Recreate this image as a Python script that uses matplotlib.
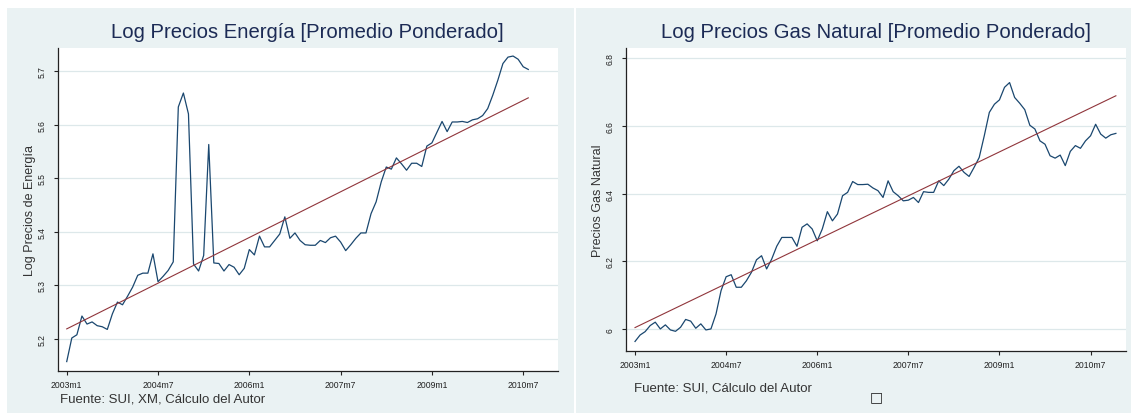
import numpy as np
import matplotlib.pyplot as plt
from matplotlib.patches import Rectangle

plt.rcParams['font.family'] = ['Liberation Sans', 'DejaVu Sans']

# datos: log precios energia, 2003m1 - 2010m8
energia = [5.158, 5.202, 5.208, 5.243, 5.228, 5.232, 5.225, 5.223, 5.218, 5.247,
           5.269, 5.264, 5.280, 5.297, 5.319, 5.323, 5.323, 5.359, 5.307, 5.317,
           5.328, 5.344, 5.633, 5.659, 5.620, 5.340, 5.327, 5.356, 5.563, 5.342,
           5.341, 5.327, 5.339, 5.334, 5.320, 5.332, 5.367, 5.357, 5.392, 5.372,
           5.372, 5.384, 5.396, 5.428, 5.388, 5.398, 5.384, 5.376, 5.375, 5.375,
           5.384, 5.380, 5.389, 5.392, 5.381, 5.365, 5.376, 5.388, 5.398, 5.398,
           5.434, 5.456, 5.493, 5.521, 5.517, 5.538, 5.527, 5.515, 5.528, 5.528,
           5.522, 5.560, 5.566, 5.586, 5.606, 5.587, 5.605, 5.605, 5.606, 5.604,
           5.609, 5.611, 5.617, 5.630, 5.655, 5.683, 5.714, 5.726, 5.728, 5.722,
           5.708, 5.703]
trend_energia = [5.219, 5.650]

# datos: log precios gas natural, 2003m1 - 2010m12
gas = [5.964, 5.983, 5.993, 6.011, 6.021, 6.001, 6.013, 5.998, 5.994, 6.006,
       6.029, 6.024, 6.003, 6.016, 5.998, 6.001, 6.045, 6.114, 6.155, 6.161,
       6.124, 6.124, 6.143, 6.168, 6.205, 6.217, 6.178, 6.207, 6.245, 6.271,
       6.271, 6.271, 6.245, 6.301, 6.311, 6.296, 6.261, 6.296, 6.347, 6.320,
       6.340, 6.394, 6.404, 6.436, 6.427, 6.427, 6.428, 6.417, 6.409, 6.389,
       6.438, 6.406, 6.394, 6.379, 6.381, 6.389, 6.374, 6.406, 6.404, 6.404,
       6.438, 6.424, 6.443, 6.468, 6.481, 6.463, 6.451, 6.478, 6.507, 6.571,
       6.640, 6.664, 6.677, 6.714, 6.728, 6.684, 6.667, 6.648, 6.602, 6.591,
       6.556, 6.546, 6.512, 6.505, 6.514, 6.483, 6.525, 6.542, 6.534, 6.556,
       6.571, 6.605, 6.576, 6.564, 6.574, 6.578]
trend_gas = [6.005, 6.689]

xticks = [0, 18, 36, 54, 72, 90]
xticklabels = ['2003m1', '2004m7', '2006m1', '2007m7', '2009m1', '2010m7']
yticks_energia = [5.2, 5.3, 5.4, 5.5, 5.6, 5.7]
yticks_gas = [6.0, 6.2, 6.4, 6.6, 6.8]
yticklabels_gas = ['6', '6.2', '6.4', '6.6', '6.8']

BG = '#EAF2F3'
NAVY = '#1A476F'
MAROON = '#90353B'
TITLE_C = '#1C2B55'
W, H = 1131.0, 414.0

fig = plt.figure(figsize=(W / 100, H / 100), dpi=100)
fig.patch.set_facecolor('white')

# fondos de los paneles (estilo Stata)
for x0, x1, y0 in [(7, 574, 9), (576, 1131, 9)]:
    fig.patches.append(Rectangle((x0 / W, 0), (x1 - x0) / W, 1 - y0 / H,
                                 transform=fig.transFigure, facecolor=BG,
                                 edgecolor='none', zorder=-5))


def panel(rect, y, trend, xlim, ylim, yticks, ylabels, title, ylabel, fuente, fuente_xy):
    ax = fig.add_axes([rect[0] / W, 1 - rect[3] / H, (rect[2] - rect[0]) / W, (rect[3] - rect[1]) / H])
    ax.set_zorder(2)
    ax.set_facecolor('white')
    t = np.arange(len(y))
    ax.plot(t, y, color=NAVY, lw=0.9, zorder=3)
    ax.plot([t[0], t[-1]], trend, color=MAROON, lw=0.8, zorder=4)
    ax.set_xlim(*xlim)
    ax.set_ylim(*ylim)
    ax.set_xticks(xticks)
    ax.set_xticklabels(xticklabels, fontsize=6.2)
    ax.set_yticks(yticks)
    ax.set_yticklabels(ylabels, fontsize=6.2, rotation=90, va='center', ha='right')
    ax.grid(axis='y', color='#DDE8EA', lw=0.9)
    ax.set_axisbelow(True)
    for s in ['top', 'right']:
        ax.spines[s].set_visible(False)
    for s in ['left', 'bottom']:
        ax.spines[s].set_color('#222222')
        ax.spines[s].set_linewidth(0.9)
    ax.tick_params(axis='x', length=3, width=0.8, pad=3.5, colors='#222222')
    ax.tick_params(axis='y', length=3, width=0.8, pad=5, colors='#222222')
    ax.text(-0.0554, 0.5, ylabel, transform=ax.transAxes, rotation=90,
            ha='center', va='center', fontsize=9, color='#333333')
    cx = (rect[0] + rect[2]) / 2
    fig.text(cx / W, 1 - 33 / H, title, ha='center', va='center',
             fontsize=14.6, color=TITLE_C)
    fig.text(fuente_xy[0] / W, 1 - fuente_xy[1] / H, fuente, ha='left', va='center',
             fontsize=9.5, color='#333333')
    return ax


panel((57.7, 49, 557.7, 371.7), energia, trend_energia, (-1.78, 96.8), (5.141, 5.743),
      yticks_energia, [str(v) for v in yticks_energia],
      'Log Precios Energía [Promedio Ponderado]', 'Log Precios de Energía',
      'Fuente: SUI, XM, Cálculo del Autor', (60, 400))

panel((625.7, 49, 1126, 352.3), gas, trend_gas, (-1.84, 97.0), (5.935, 6.83),
      yticks_gas, yticklabels_gas,
      'Log Precios Gas Natural [Promedio Ponderado]', 'Precios Gas Natural',
      'Fuente: SUI, Cálculo del Autor', (634.4, 389))

fig.text(876 / W, 1 - 397 / H, '□', ha='center', va='center', fontsize=10,
         color='#222222', family=['DejaVu Sans'])

fig.savefig('out.png', dpi=100)
